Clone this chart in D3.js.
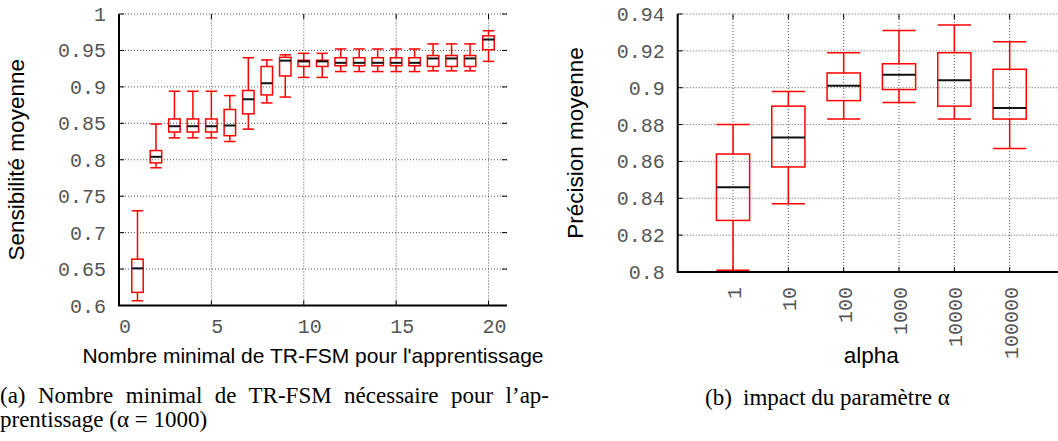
<!DOCTYPE html>
<html>
<head>
<meta charset="utf-8">
<script src="https://cdn.jsdelivr.net/npm/d3@7"></script>
<style>
  body { margin: 0; background: #fff; }
  .tick-lb { font-family: "Liberation Mono", "DejaVu Sans Mono", monospace; font-size: 20px; fill: #555; }
  .axisLb { font-family: "Liberation Sans", Arial, sans-serif; fill: #000; }
  .caption { font-family: "Liberation Serif", "Times New Roman", serif; font-size: 23px; fill: #000; }
</style>
</head>
<body>
<div id="main"></div>
<script>
const ctx = {
    w: 1058,
    h: 441,
    STROKE_W: 1.5,
    TICK_LEN: 5,
    GRID_COLOR: "#555",
    BOX_COLOR: "#ff0000"
};

// ---- data, (a): minimal number of TR-FSM used for learning ----
const nbTrFsm   = [1, 2, 3, 4, 5, 6, 7, 8, 9, 10, 11, 12, 13, 14, 15, 16, 17, 18, 19, 20];
const sensLow   = [0.6065, 0.789, 0.830, 0.830, 0.830, 0.825, 0.842, 0.878, 0.886, 0.913,
                   0.913, 0.921, 0.921, 0.921, 0.921, 0.921, 0.922, 0.922, 0.922, 0.935];
const sensQ1    = [0.618, 0.7957, 0.838, 0.838, 0.838, 0.833, 0.863, 0.889, 0.915, 0.928,
                   0.928, 0.929, 0.929, 0.929, 0.929, 0.929, 0.928, 0.928, 0.928, 0.951];
const sensMed   = [0.651, 0.804, 0.846, 0.846, 0.846, 0.847, 0.883, 0.905, 0.936, 0.935,
                   0.935, 0.933, 0.933, 0.933, 0.933, 0.933, 0.939, 0.939, 0.939, 0.965];
const sensQ3    = [0.6636, 0.8126, 0.856, 0.856, 0.856, 0.869, 0.895, 0.928, 0.9406, 0.9365,
                   0.9365, 0.940, 0.940, 0.940, 0.940, 0.940, 0.943, 0.943, 0.943, 0.970];
const sensHigh  = [0.730, 0.849, 0.894, 0.894, 0.894, 0.888, 0.940, 0.937, 0.944, 0.946,
                   0.946, 0.952, 0.952, 0.952, 0.952, 0.952, 0.959, 0.959, 0.959, 0.977];
const sensYTicks = [0.6, 0.65, 0.7, 0.75, 0.8, 0.85, 0.9, 0.95, 1];
const sensYLabels = ["0.6", "0.65", "0.7", "0.75", "0.8", "0.85", "0.9", "0.95", "1"];
const sensXTicks = [0, 5, 10, 15, 20];

// ---- data, (b): impact of alpha ----
const alphaCats = ["1", "10", "100", "1000", "10000", "100000"];
const precLow   = [0.801, 0.837, 0.883, 0.892, 0.883, 0.867];
const precQ1    = [0.828, 0.857, 0.893, 0.899, 0.890, 0.883];
const precMed   = [0.846, 0.873, 0.901, 0.907, 0.904, 0.889];
const precQ3    = [0.864, 0.890, 0.908, 0.913, 0.919, 0.910];
const precHigh  = [0.880, 0.898, 0.919, 0.931, 0.934, 0.925];
const precYTicks = [0.8, 0.82, 0.84, 0.86, 0.88, 0.9, 0.92, 0.94];
const precYLabels = ["0.8", "0.82", "0.84", "0.86", "0.88", "0.9", "0.92", "0.94"];

const captionA1 = "(a) Nombre minimal de TR-FSM nécessaire pour l’ap-";
const captionA2 = "prentissage (α = 1000)";
const captionB = ["(b)", "impact du paramètre α"];

function zipStats(xs, lo, q1, med, q3, hi) {
    return xs.map((x, i) => ({ x: x, lo: lo[i], q1: q1[i], med: med[i], q3: q3[i], hi: hi[i] }));
}

// frame: grid, axes lines, inward ticks (mirrored), labels
function drawFrame(g, xScale, yScale, xTicks, yTicks, yLabels, x0, x1, y0, y1) {
    let grid = g.append("g");
    grid.selectAll("line.hg")
        .data(yTicks)
        .enter().append("line")
        .attr("x1", x0).attr("x2", x1)
        .attr("y1", (d) => yScale(d)).attr("y2", (d) => yScale(d))
        .attr("stroke", ctx.GRID_COLOR).attr("stroke-width", 1)
        .attr("stroke-dasharray", "1,2");
    grid.selectAll("line.vg")
        .data(xTicks)
        .enter().append("line")
        .attr("x1", (d) => xScale(d)).attr("x2", (d) => xScale(d))
        .attr("y1", y0).attr("y2", y1)
        .attr("stroke", ctx.GRID_COLOR).attr("stroke-width", 1)
        .attr("stroke-dasharray", "1,2");

    // ticks (inward, mirrored)
    let ticks = g.append("g").attr("stroke", "#000").attr("stroke-width", 1);
    yTicks.forEach((t) => {
        ticks.append("line").attr("x1", x0).attr("x2", x0 + ctx.TICK_LEN)
            .attr("y1", yScale(t)).attr("y2", yScale(t));
        ticks.append("line").attr("x1", x1 - ctx.TICK_LEN).attr("x2", x1)
            .attr("y1", yScale(t)).attr("y2", yScale(t));
    });
    xTicks.forEach((t) => {
        ticks.append("line").attr("x1", xScale(t)).attr("x2", xScale(t))
            .attr("y1", y0).attr("y2", y0 - ctx.TICK_LEN);
        ticks.append("line").attr("x1", xScale(t)).attr("x2", xScale(t))
            .attr("y1", y1).attr("y2", y1 + ctx.TICK_LEN);
    });

    // left + bottom border
    g.append("path")
        .attr("d", `M${x0},${y1}V${y0}H${x1}`)
        .attr("fill", "none").attr("stroke", "#000").attr("stroke-width", 2);

    g.selectAll("text.ylb")
        .data(yTicks)
        .enter().append("text")
        .attr("class", "tick-lb")
        .attr("x", x0 - 13)
        .attr("y", (d) => yScale(d))
        .attr("dy", "0.35em")
        .style("text-anchor", "end")
        .text((d, i) => yLabels[i]);
}

function drawBoxes(g, data, xScale, yScale, halfW) {
    let boxG = g.selectAll("g.box")
        .data(data)
        .enter().append("g")
        .attr("transform", (d) => `translate(${xScale(d.x)},0)`);
    // whiskers
    boxG.append("line")
        .attr("x1", 0).attr("x2", 0)
        .attr("y1", (d) => yScale(d.lo)).attr("y2", (d) => yScale(d.q1))
        .attr("stroke", ctx.BOX_COLOR).attr("stroke-width", ctx.STROKE_W);
    boxG.append("line")
        .attr("x1", 0).attr("x2", 0)
        .attr("y1", (d) => yScale(d.q3)).attr("y2", (d) => yScale(d.hi))
        .attr("stroke", ctx.BOX_COLOR).attr("stroke-width", ctx.STROKE_W);
    ["lo", "hi"].forEach((k) => {
        boxG.append("line")
            .attr("x1", -halfW).attr("x2", halfW)
            .attr("y1", (d) => yScale(d[k])).attr("y2", (d) => yScale(d[k]))
            .attr("stroke", ctx.BOX_COLOR).attr("stroke-width", ctx.STROKE_W);
    });
    // box
    boxG.append("rect")
        .attr("x", -halfW)
        .attr("y", (d) => yScale(d.q3))
        .attr("width", 2 * halfW)
        .attr("height", (d) => yScale(d.q1) - yScale(d.q3))
        .attr("fill", "none")
        .attr("stroke", ctx.BOX_COLOR).attr("stroke-width", ctx.STROKE_W);
    // median
    boxG.append("line")
        .attr("x1", -halfW).attr("x2", halfW)
        .attr("y1", (d) => yScale(d.med)).attr("y2", (d) => yScale(d.med))
        .attr("stroke", "#111").attr("stroke-width", 2);
}

function plotSensitivity(svg) {
    let x0 = 119, x1 = 507, y0 = 305.5, y1 = 14;
    let xScale = d3.scaleLinear().domain([0, 21]).range([x0, x1]);
    let yScale = d3.scaleLinear().domain([0.6, 1]).range([y0, y1]);
    let g = svg.append("g").attr("id", "plotA");
    drawFrame(g, xScale, yScale, sensXTicks, sensYTicks, sensYLabels, x0, x1, y0, y1);

    g.selectAll("text.xlb")
        .data(sensXTicks)
        .enter().append("text")
        .attr("class", "tick-lb")
        .attr("x", (d) => xScale(d) + 6)
        .attr("y", 333)
        .style("text-anchor", "middle")
        .text((d) => d);

    let halfW = (xScale(0.31) - xScale(0));
    drawBoxes(g, zipStats(nbTrFsm, sensLow, sensQ1, sensMed, sensQ3, sensHigh), xScale, yScale, halfW);

    g.append("text")
        .attr("class", "axisLb")
        .attr("x", (x0 + x1) / 2)
        .attr("y", 363)
        .style("font-size", "21px")
        .style("text-anchor", "middle")
        .text("Nombre minimal de TR-FSM pour l'apprentissage");
    g.append("text")
        .attr("class", "axisLb")
        .attr("transform", `translate(24,${(y0 + y1) / 2}) rotate(-90)`)
        .style("font-size", "22.5px")
        .style("text-anchor", "middle")
        .text("Sensibilité moyenne");
}

function plotPrecision(svg) {
    let x0 = 677.7, x1 = 1065, y0 = 272, y1 = 14;
    let xScale = d3.scaleLinear().domain([0, 7]).range([x0, x1]);
    let yScale = d3.scaleLinear().domain([0.8, 0.94]).range([y0, y1]);
    let g = svg.append("g").attr("id", "plotB");
    let catIdx = alphaCats.map((c, i) => i + 1);
    drawFrame(g, xScale, yScale, catIdx, precYTicks, precYLabels, x0, x1, y0, y1);

    g.selectAll("text.xlb")
        .data(alphaCats)
        .enter().append("text")
        .attr("class", "tick-lb")
        .attr("transform", (d, i) => `translate(${xScale(i + 1) + 8},287) rotate(-90)`)
        .style("text-anchor", "end")
        .text((d) => d);

    let halfW = (xScale(0.3) - xScale(0));
    drawBoxes(g, zipStats(catIdx, precLow, precQ1, precMed, precQ3, precHigh), xScale, yScale, halfW);

    g.append("text")
        .attr("class", "axisLb")
        .attr("x", (x0 + x1) / 2)
        .attr("y", 363)
        .style("font-size", "22.5px")
        .style("text-anchor", "middle")
        .text("alpha");
    g.append("text")
        .attr("class", "axisLb")
        .attr("transform", `translate(583,${(y0 + y1) / 2}) rotate(-90)`)
        .style("font-size", "22.5px")
        .style("text-anchor", "middle")
        .text("Précision moyenne");
}

function drawCaptions(svg) {
    let capG = svg.append("g").attr("id", "captions");
    // first line justified to the column width
    let l1 = capG.append("text")
        .attr("class", "caption")
        .attr("x", 0).attr("y", 403)
        .text(captionA1);
    let nSpaces = captionA1.split(" ").length - 1;
    let natural = l1.node().getComputedTextLength();
    l1.style("word-spacing", `${(549 - natural) / nSpaces}px`);
    capG.append("text")
        .attr("class", "caption")
        .attr("x", 0).attr("y", 427)
        .text(captionA2);

    capG.append("text")
        .attr("class", "caption")
        .attr("x", 705).attr("y", 405)
        .text(captionB[0]);
    capG.append("text")
        .attr("class", "caption")
        .attr("x", 743).attr("y", 405)
        .text(captionB[1]);
}

function createViz() {
    let svgEl = d3.select("#main").append("svg")
        .attr("width", ctx.w)
        .attr("height", ctx.h)
        .style("display", "block");
    svgEl.append("rect").attr("width", ctx.w).attr("height", ctx.h).attr("fill", "#fff");
    plotSensitivity(svgEl);
    plotPrecision(svgEl);
    drawCaptions(svgEl);
}

createViz();
</script>
</body>
</html>
